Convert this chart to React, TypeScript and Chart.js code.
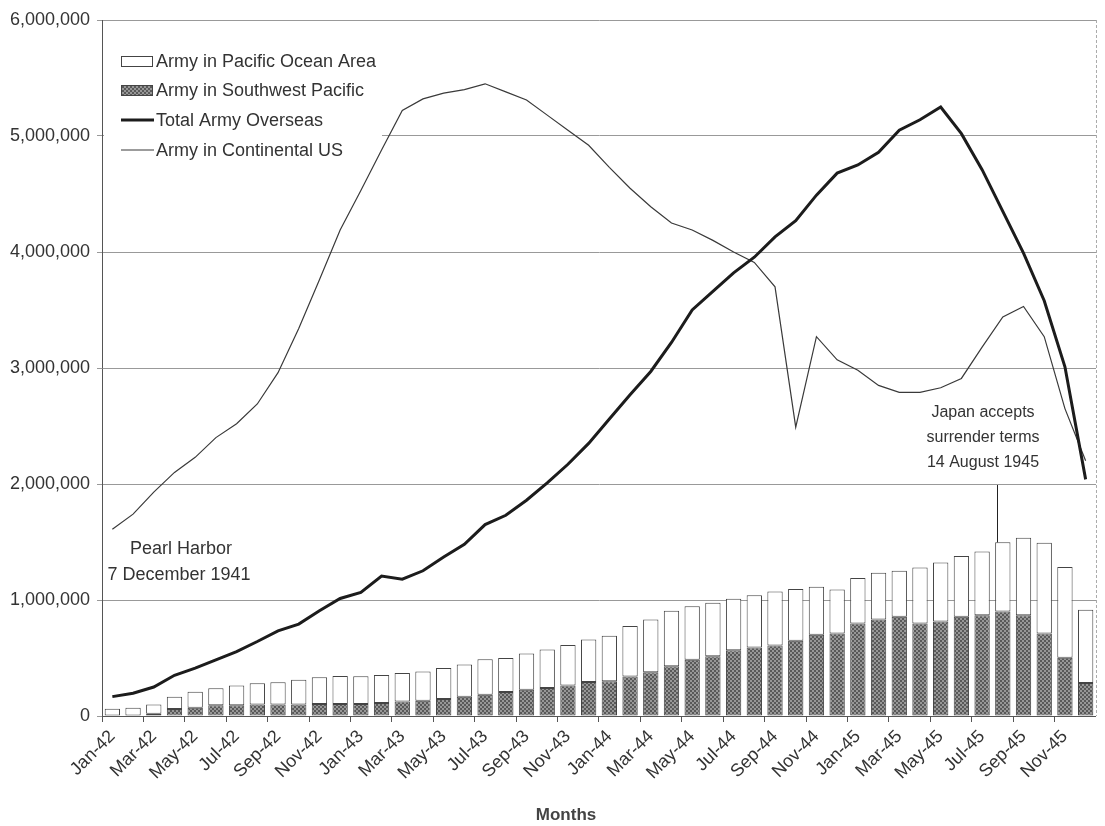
import React, { useEffect, useRef } from "react";
import { Chart, registerables } from "chart.js";

Chart.register(...registerables);

const monthNames = ["Jan", "Feb", "Mar", "Apr", "May", "Jun", "Jul", "Aug", "Sep", "Oct", "Nov", "Dec"];
const yearSuffixes = ["42", "43", "44", "45"];
const categories = yearSuffixes.flatMap((y) => monthNames.map((m) => `${m}-${y}`));

const armySouthwestPacific = [
  0, 0, 20000, 60000, 72000, 92000, 92000, 100000, 100000, 100000, 103000, 103000,
  103000, 112000, 124000, 132000, 147000, 167000, 184000, 207000, 227000, 242000, 262000, 294000,
  300000, 340000, 377000, 429000, 484000, 516000, 567000, 590000, 607000, 648000, 700000, 711000,
  797000, 832000, 855000, 797000, 814000, 855000, 869000, 901000, 869000, 711000, 503000, 285000,
];

const armyPacificOceanArea = [
  63000, 72000, 80000, 107000, 138000, 148000, 170000, 182000, 191000, 213000, 231000, 242000,
  240000, 242000, 247000, 251000, 267000, 276000, 306000, 294000, 311000, 331000, 351000, 365000,
  391000, 435000, 455000, 478000, 463000, 460000, 443000, 452000, 466000, 446000, 414000, 380000,
  392000, 403000, 397000, 484000, 510000, 524000, 550000, 596000, 668000, 783000, 781000, 630000,
];

const totalArmyOverseas = [
  167000, 196000, 250000, 351000, 412000, 484000, 555000, 642000, 734000, 792000, 907000, 1013000,
  1065000, 1206000, 1180000, 1252000, 1370000, 1480000, 1650000, 1730000, 1860000, 2010000, 2170000, 2350000,
  2560000, 2770000, 2970000, 3220000, 3500000, 3660000, 3820000, 3955000, 4130000, 4270000, 4490000, 4680000,
  4750000, 4860000, 5050000, 5140000, 5250000, 5020000, 4710000, 4350000, 3990000, 3580000, 3010000, 2040000,
];

const armyContinentalUS = [
  1610000, 1740000, 1930000, 2100000, 2230000, 2400000, 2520000, 2690000, 2960000, 3340000, 3760000, 4190000,
  4530000, 4880000, 5220000, 5320000, 5370000, 5400000, 5450000, 5380000, 5310000, 5180000, 5050000, 4920000,
  4730000, 4550000, 4390000, 4250000, 4190000, 4100000, 4000000, 3910000, 3700000, 2490000, 3270000, 3070000,
  2980000, 2850000, 2790000, 2790000, 2830000, 2910000, 3180000, 3440000, 3530000, 3270000, 2650000, 2200000,
];

const yTickValues = [0, 1000000, 2000000, 3000000, 4000000, 5000000, 6000000];
const seriesNames = [
  "Army in Pacific Ocean Area",
  "Army in Southwest Pacific",
  "Total Army Overseas",
  "Army in Continental US",
];
const pearlHarborNote = ["Pearl Harbor", "7 December 1941"];
const surrenderNote = ["Japan accepts", "surrender terms", "14 August 1945"];
const surrenderIndex = 42.7;
const xAxisTitle = "Months";

const FONT = 'Arial, "Liberation Sans", sans-serif';
const TEXT = "#333333";

function makePattern(): CanvasPattern | string {
  const c = document.createElement("canvas");
  c.width = 4;
  c.height = 4;
  const g = c.getContext("2d");
  if (!g) return "#7a7a7a";
  g.fillStyle = "#979797";
  g.fillRect(0, 0, 4, 4);
  g.fillStyle = "#595959";
  g.fillRect(0, 0, 2, 2);
  g.fillRect(2, 2, 2, 2);
  const p = g.createPattern(c, "repeat");
  return p || "#7a7a7a";
}

export default function App() {
  const ref = useRef<HTMLCanvasElement>(null);

  useEffect(() => {
    if (!ref.current) return;
    const pattern = makePattern();

    const overlay = {
      id: "overlay",
      beforeDatasetsDraw(chart: any) {
        const ctx = chart.ctx as CanvasRenderingContext2D;
        const area = chart.chartArea;
        ctx.save();
        ctx.fillStyle = "#ffffff";
        ctx.fillRect(area.left + 2, 38, 278, 124);
        ctx.restore();
      },
      afterDraw(chart: any) {
        const ctx = chart.ctx as CanvasRenderingContext2D;
        const area = chart.chartArea;
        const xs = chart.scales.x;
        const ys = chart.scales.y;
        ctx.save();

        ctx.strokeStyle = "#aaaaaa";
        ctx.lineWidth = 1;
        ctx.setLineDash([3, 2]);
        ctx.beginPath();
        ctx.moveTo(area.right + 0.5, area.top);
        ctx.lineTo(area.right + 0.5, area.bottom);
        ctx.stroke();
        ctx.setLineDash([]);

        const lx = 121;
        const rows = [61, 90, 120, 150];
        ctx.font = `18px ${FONT}`;
        ctx.textBaseline = "middle";
        ctx.textAlign = "left";
        ctx.fillStyle = "#ffffff";
        ctx.fillRect(lx, rows[0] - 5, 31, 10);
        ctx.strokeStyle = "#444";
        ctx.lineWidth = 1;
        ctx.strokeRect(lx + 0.5, rows[0] - 4.5, 31, 10);
        ctx.fillStyle = pattern as any;
        ctx.fillRect(lx, rows[1] - 5, 31, 10);
        ctx.strokeRect(lx + 0.5, rows[1] - 4.5, 31, 10);
        ctx.strokeStyle = "#1c1c1c";
        ctx.lineWidth = 3;
        ctx.beginPath();
        ctx.moveTo(lx, rows[2]);
        ctx.lineTo(lx + 33, rows[2]);
        ctx.stroke();
        ctx.strokeStyle = "#3a3a3a";
        ctx.lineWidth = 1.2;
        ctx.beginPath();
        ctx.moveTo(lx, rows[3]);
        ctx.lineTo(lx + 33, rows[3]);
        ctx.stroke();
        ctx.fillStyle = TEXT;
        seriesNames.forEach((name, i) => {
          ctx.fillText(name, lx + 35, rows[i] + 1);
        });

        ctx.textAlign = "center";
        ctx.font = `18px ${FONT}`;
        ctx.fillText(pearlHarborNote[0], 181, 549);
        ctx.fillText(pearlHarborNote[1], 179, 575);

        ctx.font = `16px ${FONT}`;
        ctx.fillText(surrenderNote[0], 983, 413);
        ctx.fillText(surrenderNote[1], 983, 438);
        ctx.fillText(surrenderNote[2], 983, 463);
        const sx = Math.round(xs.getPixelForValue(surrenderIndex)) + 0.5;
        const barTop = ys.getPixelForValue(
          armySouthwestPacific[43] + armyPacificOceanArea[43]
        );
        ctx.strokeStyle = "#222";
        ctx.lineWidth = 1;
        ctx.beginPath();
        ctx.moveTo(sx, 485);
        ctx.lineTo(sx, barTop);
        ctx.stroke();

        ctx.font = `bold 17px ${FONT}`;
        ctx.fillStyle = "#444";
        ctx.fillText(xAxisTitle, 566, 815);

        ctx.restore();
      },
    };

    const chart = new Chart(ref.current, {
      type: "bar",
      data: {
        labels: categories,
        datasets: [
          {
            type: "line",
            label: seriesNames[2],
            data: totalArmyOverseas,
            borderColor: "#1c1c1c",
            borderWidth: 3,
            pointRadius: 0,
            tension: 0,
            fill: false,
            stack: "total",
            order: 0,
          } as any,
          {
            type: "line",
            label: seriesNames[3],
            data: armyContinentalUS,
            borderColor: "#3a3a3a",
            borderWidth: 1.2,
            pointRadius: 0,
            tension: 0,
            fill: false,
            stack: "conus",
            order: 1,
          } as any,
          {
            type: "bar",
            label: seriesNames[1],
            data: armySouthwestPacific,
            backgroundColor: pattern as any,
            borderColor: "#444444",
            borderWidth: 1,
            borderSkipped: false,
            stack: "bars",
            order: 2,
            barPercentage: 0.74,
            categoryPercentage: 1,
          } as any,
          {
            type: "bar",
            label: seriesNames[0],
            data: armyPacificOceanArea,
            backgroundColor: "#ffffff",
            borderColor: "#444444",
            borderWidth: 1,
            borderSkipped: false,
            stack: "bars",
            order: 3,
            barPercentage: 0.74,
            categoryPercentage: 1,
          } as any,
        ],
      },
      options: {
        responsive: false,
        animation: false,
        layout: { padding: { top: 20, right: 8, left: 0, bottom: 0 } },
        plugins: {
          legend: { display: false },
          tooltip: { enabled: false },
          title: { display: false },
        },
        scales: {
          x: {
            type: "category",
            stacked: true,
            offset: true,
            grid: {
              display: true,
              drawOnChartArea: false,
              drawTicks: true,
              tickLength: 6,
              offset: true,
              color: (c: any) => (c.index % 2 === 0 ? "#555555" : "rgba(0,0,0,0)"),
            },
            border: { display: true, color: "#555555", width: 1 },
            ticks: {
              autoSkip: false,
              maxRotation: 45,
              minRotation: 45,
              padding: 4,
              color: TEXT,
              font: { size: 18, family: FONT },
              callback: (_v: any, i: number) => (i % 2 === 0 ? categories[i] : ""),
            },
            afterFit: (s: any) => {
              s.height = 110;
            },
          },
          y: {
            stacked: true,
            min: yTickValues[0],
            max: yTickValues[yTickValues.length - 1],
            afterBuildTicks: (s: any) => {
              s.ticks = yTickValues.map((v) => ({ value: v }));
            },
            grid: { color: "#999999", lineWidth: 1, drawTicks: true, tickLength: 5 },
            border: { display: true, color: "#555555", width: 1 },
            ticks: {
              padding: 7,
              color: TEXT,
              font: { size: 18, family: FONT },
              callback: (v: any) => Number(v).toLocaleString("en-US"),
            },
            afterFit: (s: any) => {
              s.width = 102;
            },
          },
        },
      },
      plugins: [overlay],
    });

    return () => chart.destroy();
  }, []);

  return (
    <div
      style={{
        position: "fixed",
        left: 0,
        top: 0,
        width: 1105,
        height: 826,
        background: "#ffffff",
      }}
    >
      <canvas ref={ref} width={1105} height={826} style={{ width: 1105, height: 826, display: "block" }} />
    </div>
  );
}
